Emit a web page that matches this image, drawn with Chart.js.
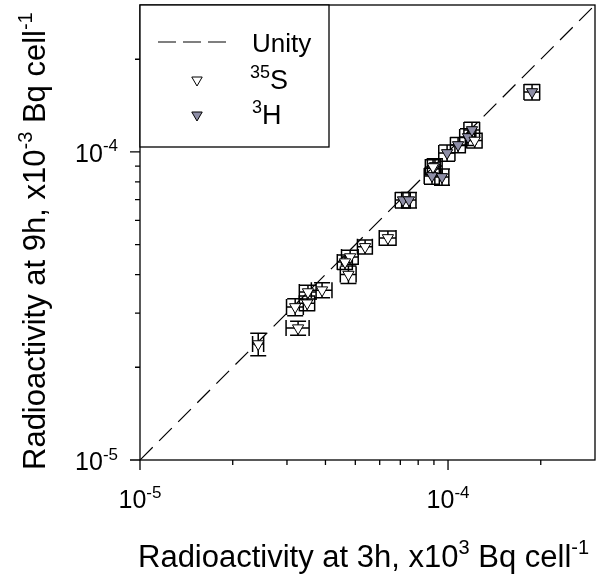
<!DOCTYPE html>
<html>
<head>
<meta charset="utf-8">
<script src="https://cdn.jsdelivr.net/npm/chart.js@4.4.0/dist/chart.umd.min.js"></script>
<style>
    html, body { margin: 0; padding: 0; background: #fff; }
    #wrap { width: 598px; height: 584px; }
</style>
</head>
<body>
<div id="wrap"><canvas id="chart" width="598" height="584"></canvas></div>
<script>
// Limites e ticks dos eixos (log)
const axisMin = 1e-5;
const axisMax = 3e-4;
const majorTicks = [1e-5, 1e-4];
const majorExp = ['-5', '-4'];
const minorTicks = [2e-5, 3e-5, 4e-5, 5e-5, 6e-5, 7e-5, 8e-5, 9e-5, 2e-4];

// Linha de unidade
const unityX = [1e-5, 3e-4];
const unityY = [1e-5, 3e-4];

// 35S (triângulos abertos)
const s35X    = [2.42e-5, 3.26e-5, 3.19e-5, 3.49e-5, 3.51e-5, 3.90e-5, 4.75e-5, 4.81e-5, 4.63e-5, 5.38e-5, 6.38e-5, 8.94e-5, 1.22e-4];
const s35Y    = [2.38e-5, 2.68e-5, 3.14e-5, 3.23e-5, 3.51e-5, 3.56e-5, 4.00e-5, 4.56e-5, 4.39e-5, 4.92e-5, 5.26e-5, 8.94e-5, 1.09e-4];
const s35XErr = [0.10e-5, 0.28e-5, 0.20e-5, 0.20e-5, 0.22e-5, 0.30e-5, 0.28e-5, 0.30e-5, 0.26e-5, 0.30e-5, 0.40e-5, 0.50e-5, 0.70e-5];
const s35YErr = [0.20e-5, 0.14e-5, 0.20e-5, 0.18e-5, 0.18e-5, 0.20e-5, 0.26e-5, 0.24e-5, 0.24e-5, 0.26e-5, 0.28e-5, 0.50e-5, 0.60e-5];

// 3H (triângulos cinza)
const h3X    = [7.14e-5, 7.47e-5, 8.87e-5, 9.56e-5, 9.07e-5, 9.93e-5, 1.078e-4, 1.161e-4, 1.196e-4, 1.874e-4];
const h3Y    = [6.98e-5, 6.98e-5, 8.36e-5, 8.30e-5, 9.01e-5, 9.93e-5, 1.054e-4, 1.119e-4, 1.179e-4, 1.566e-4];
const h3XErr = [0.40e-5, 0.40e-5, 0.50e-5, 0.50e-5, 0.50e-5, 0.60e-5, 0.60e-5, 0.70e-5, 0.70e-5, 1.10e-5];
const h3YErr = [0.40e-5, 0.40e-5, 0.50e-5, 0.50e-5, 0.50e-5, 0.60e-5, 0.60e-5, 0.70e-5, 0.70e-5, 0.90e-5];

const grayFill = '#8e8ea6';
const fontFamily = '"Liberation Sans", Arial, sans-serif';

const toPoints = (xs, ys) => xs.map((x, i) => ({ x: x, y: ys[i] }));

const errorSets = [
    { xs: s35X, ys: s35Y, ex: s35XErr, ey: s35YErr },
    { xs: h3X, ys: h3Y, ex: h3XErr, ey: h3YErr }
];

// Mede e desenha texto com partes sobrescritas
const measureParts = (ctx, parts, size, supSize) => {
    let w = 0;
    parts.forEach(p => {
        ctx.font = (p[1] ? supSize : size) + 'px ' + fontFamily;
        w += ctx.measureText(p[0]).width;
    });
    return w;
};

const drawParts = (ctx, parts, x, y, size, supSize) => {
    let cx = x;
    parts.forEach(p => {
        ctx.font = (p[1] ? supSize : size) + 'px ' + fontFamily;
        ctx.fillText(p[0], cx, p[1] ? y - size * 0.42 : y);
        cx += ctx.measureText(p[0]).width;
    });
};

const decoPlugin = {
    id: 'deco',
    beforeDatasetsDraw(chart) {
        const ctx = chart.ctx;
        const xs = chart.scales.x, ys = chart.scales.y;
        const cap = 8;
        ctx.save();
        ctx.strokeStyle = '#000';
        ctx.lineWidth = 1.5;
        errorSets.forEach(set => {
            set.xs.forEach((xv, i) => {
                const yv = set.ys[i];
                const px = xs.getPixelForValue(xv), py = ys.getPixelForValue(yv);
                const x0 = xs.getPixelForValue(xv - set.ex[i]), x1 = xs.getPixelForValue(xv + set.ex[i]);
                const y0 = ys.getPixelForValue(yv - set.ey[i]), y1 = ys.getPixelForValue(yv + set.ey[i]);
                ctx.beginPath();
                ctx.moveTo(x0, py); ctx.lineTo(x1, py);
                ctx.moveTo(x0, py - cap); ctx.lineTo(x0, py + cap);
                ctx.moveTo(x1, py - cap); ctx.lineTo(x1, py + cap);
                ctx.moveTo(px, y0); ctx.lineTo(px, y1);
                ctx.moveTo(px - cap, y0); ctx.lineTo(px + cap, y0);
                ctx.moveTo(px - cap, y1); ctx.lineTo(px + cap, y1);
                ctx.stroke();
            });
        });
        ctx.restore();
    },
    afterDraw(chart) {
        const ctx = chart.ctx;
        const a = chart.chartArea;
        const xs = chart.scales.x, ys = chart.scales.y;
        ctx.save();
        ctx.strokeStyle = '#000';
        ctx.fillStyle = '#000';
        ctx.lineWidth = 1.3;

        // caixa do gráfico
        ctx.strokeRect(a.left, a.top, a.right - a.left, a.bottom - a.top);

        // ticks
        ctx.beginPath();
        majorTicks.forEach(v => {
            const px = xs.getPixelForValue(v);
            ctx.moveTo(px, a.bottom); ctx.lineTo(px, a.bottom + 10);
            const py = ys.getPixelForValue(v);
            ctx.moveTo(a.left, py); ctx.lineTo(a.left - 10, py);
        });
        minorTicks.forEach(v => {
            const px = xs.getPixelForValue(v);
            ctx.moveTo(px, a.bottom); ctx.lineTo(px, a.bottom + 5);
            const py = ys.getPixelForValue(v);
            ctx.moveTo(a.left, py); ctx.lineTo(a.left - 5, py);
        });
        ctx.stroke();

        // rótulos dos ticks
        ctx.textBaseline = 'alphabetic';
        ctx.textAlign = 'left';
        majorTicks.forEach((v, i) => {
            const parts = [['10', false], [majorExp[i], true]];
            const w = measureParts(ctx, parts, 25, 17);
            const px = xs.getPixelForValue(v);
            drawParts(ctx, parts, px - w / 2, a.bottom + 48, 25, 17);
            const py = ys.getPixelForValue(v);
            drawParts(ctx, parts, a.left - 22 - w, py + 10, 25, 17);
        });

        // títulos dos eixos
        const xt = [['Radioactivity at 3h, x10', false], ['3', true], [' Bq cell', false], ['-1', true]];
        drawParts(ctx, xt, 138, 567, 31, 20);

        const yt = [['Radioactivity at 9h, x10', false], ['-3', true], [' Bq cell', false], ['-1', true]];
        ctx.save();
        ctx.translate(45, 470);
        ctx.rotate(-Math.PI / 2);
        drawParts(ctx, yt, 0, 0, 31, 20);
        ctx.restore();

        // legenda
        ctx.fillStyle = '#fff';
        ctx.fillRect(a.left, a.top, 189, 142);
        ctx.lineWidth = 1.3;
        ctx.strokeRect(a.left, a.top, 189, 142);
        ctx.fillStyle = '#000';

        ctx.lineWidth = 1.2;
        ctx.setLineDash([18, 7]);
        ctx.beginPath();
        ctx.moveTo(a.left + 18, a.top + 37);
        ctx.lineTo(a.left + 86, a.top + 37);
        ctx.stroke();
        ctx.setLineDash([]);

        const tri = (cx, cy, r, fill) => {
            ctx.beginPath();
            ctx.moveTo(cx - r * 0.87, cy - r * 0.5);
            ctx.lineTo(cx + r * 0.87, cy - r * 0.5);
            ctx.lineTo(cx, cy + r);
            ctx.closePath();
            ctx.fillStyle = fill;
            ctx.fill();
            ctx.lineWidth = 1;
            ctx.stroke();
        };
        tri(a.left + 57, a.top + 75, 6, '#fff');
        tri(a.left + 57, a.top + 110, 6, grayFill);

        ctx.fillStyle = '#000';
        ctx.font = '26px ' + fontFamily;
        ctx.fillText('Unity', a.left + 112, a.top + 47);
        drawParts(ctx, [['35', true], ['S', false]], a.left + 110, a.top + 84, 27, 18);
        drawParts(ctx, [['3', true], ['H', false]], a.left + 112, a.top + 119, 27, 18);

        ctx.restore();
    }
};

new Chart(document.getElementById('chart').getContext('2d'), {
    type: 'scatter',
    data: {
        datasets: [
            {
                label: '35S',
                data: toPoints(s35X, s35Y),
                pointStyle: 'triangle',
                rotation: 180,
                pointRadius: 6.5,
                backgroundColor: '#fff',
                borderColor: '#000',
                borderWidth: 1
            },
            {
                label: '3H',
                data: toPoints(h3X, h3Y),
                pointStyle: 'triangle',
                rotation: 180,
                pointRadius: 6.5,
                backgroundColor: grayFill,
                borderColor: '#000',
                borderWidth: 1
            },
            {
                label: 'Unity',
                data: toPoints(unityX, unityY),
                showLine: true,
                pointRadius: 0,
                borderColor: '#000',
                borderWidth: 1.2,
                borderDash: [18, 9],
                fill: false
            }
        ]
    },
    options: {
        responsive: false,
        animation: false,
        devicePixelRatio: 1,
        layout: { autoPadding: false, padding: { top: 5, right: 3, left: 0, bottom: 0 } },
        scales: {
            x: {
                type: 'logarithmic',
                min: axisMin,
                max: axisMax,
                ticks: { display: false },
                grid: { display: false },
                border: { display: false },
                afterFit: s => { s.height = 124; }
            },
            y: {
                type: 'logarithmic',
                min: axisMin,
                max: axisMax,
                ticks: { display: false },
                grid: { display: false },
                border: { display: false },
                afterFit: s => { s.width = 140; }
            }
        },
        plugins: {
            legend: { display: false },
            tooltip: { enabled: false }
        }
    },
    plugins: [decoPlugin]
});
</script>
</body>
</html>
